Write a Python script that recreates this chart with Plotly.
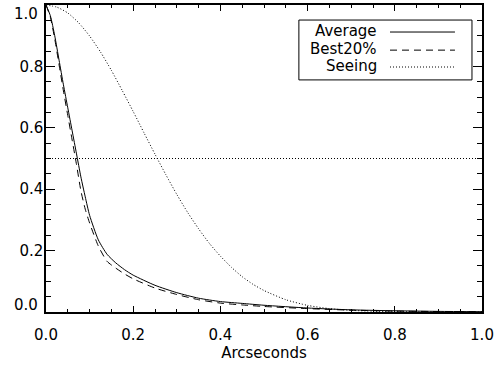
import plotly.graph_objects as go

# ---- data ----
x_avg = [0.0, 0.01, 0.02, 0.03, 0.04, 0.05, 0.06, 0.07, 0.08, 0.09, 0.10, 0.12, 0.14, 0.16, 0.18,
         0.20, 0.25, 0.30, 0.35, 0.40, 0.45, 0.50, 0.60, 0.70, 0.80, 0.90, 1.00]
y_avg = [1.0, 0.965, 0.90, 0.82, 0.74, 0.665, 0.59, 0.515, 0.44, 0.375, 0.315, 0.235, 0.188, 0.160, 0.138,
         0.120, 0.087, 0.063, 0.045, 0.034, 0.028, 0.022, 0.013, 0.007, 0.004, 0.002, 0.001]
y_best = [1.0, 0.96, 0.89, 0.805, 0.72, 0.64, 0.56, 0.48, 0.395, 0.335, 0.29, 0.215, 0.165, 0.143, 0.124,
          0.108, 0.078, 0.057, 0.040, 0.029, 0.023, 0.018, 0.011, 0.006, 0.003, 0.0015, 0.001]

x_see = [0.0, 0.025, 0.05, 0.075, 0.10, 0.125, 0.15, 0.175, 0.20, 0.225, 0.25, 0.275, 0.30, 0.325,
         0.35, 0.375, 0.40, 0.425, 0.45, 0.475, 0.50, 0.55, 0.60, 0.65, 0.70, 0.75, 0.80, 0.90, 1.00]
y_see = [1.0, 0.993, 0.974, 0.942, 0.899, 0.847, 0.787, 0.721, 0.653, 0.583, 0.514, 0.447, 0.383, 0.324,
         0.271, 0.223, 0.182, 0.146, 0.115, 0.090, 0.070, 0.040, 0.0215, 0.011, 0.0054, 0.0025, 0.0011, 0.0002, 0.0]

x_half = [0.0, 1.0]
y_half = [0.5, 0.5]

legend_names = ["Average", "Best20%", "Seeing"]
legend_dash = ["solid", "7px,5px", "1px,2px"]

x_ticks = [0.0, 0.2, 0.4, 0.6, 0.8, 1.0]
y_ticks = [0.0, 0.2, 0.4, 0.6, 0.8, 1.0]
# IDL nudges the end labels of the y axis inwards; those two are drawn as annotations
y_ticktext = ["", "0.2", "0.4", "0.6", "0.8", ""]

FONT = "DejaVu Sans"

fig = go.Figure()
fig.add_trace(go.Scatter(x=x_avg, y=y_avg, mode="lines", line=dict(color="black", width=1, shape="spline", smoothing=0.6, dash=legend_dash[0]), showlegend=False))
fig.add_trace(go.Scatter(x=x_avg, y=y_best, mode="lines", line=dict(color="black", width=1, shape="spline", smoothing=0.6, dash=legend_dash[1]), showlegend=False))
fig.add_trace(go.Scatter(x=x_see, y=y_see, mode="lines", line=dict(color="black", width=1, shape="spline", smoothing=0.6, dash=legend_dash[2]), showlegend=False))
fig.add_trace(go.Scatter(x=x_half, y=y_half, mode="lines", line=dict(color="black", width=1, dash=legend_dash[2]), showlegend=False))

# custom legend (text left, line sample right), IDL style
fig.add_shape(type="rect", xref="paper", yref="paper", x0=0.580, x1=0.977, y0=0.756, y1=0.951,
              line=dict(color="black", width=1), fillcolor="white", layer="above")
rows_y = [0.912, 0.853, 0.798]
for name, dash, ry in zip(legend_names, legend_dash, rows_y):
    fig.add_annotation(xref="paper", yref="paper", x=0.764, y=ry + 0.004, text=name, showarrow=False,
                       xanchor="right", yanchor="middle", font=dict(family=FONT, size=15, color="black"))
    fig.add_shape(type="line", xref="paper", yref="paper", x0=0.789, x1=0.938, y0=ry, y1=ry,
                  line=dict(color="black", width=1, dash=dash), layer="above")

# end labels of the y axis
fig.add_annotation(xref="paper", yref="y", x=0, y=y_ticks[-1], text=f"{y_ticks[-1]:.1f}", showarrow=False,
                   xanchor="right", yanchor="top", xshift=-6, yshift=2,
                   font=dict(family=FONT, size=15, color="black"))
fig.add_annotation(xref="paper", yref="y", x=0, y=y_ticks[0], text=f"{y_ticks[0]:.1f}", showarrow=False,
                   xanchor="right", yanchor="bottom", xshift=-6, yshift=-4,
                   font=dict(family=FONT, size=15, color="black"))

axis_common = dict(range=[0, 1], showline=True, linecolor="black", linewidth=1.5, mirror="ticks",
                   ticks="inside", tickcolor="black", tickwidth=1, showgrid=False, zeroline=False,
                   automargin=False, ticklabeloverflow="allow",
                   tickfont=dict(family=FONT, size=15, color="black"))
fig.update_xaxes(**axis_common, tickvals=x_ticks, tickformat=".1f", ticklen=6,
                 minor=dict(dtick=0.05, ticks="inside", ticklen=3, tickcolor="black", tickwidth=1, showgrid=False),
                 title=dict(text="Arcseconds", font=dict(family=FONT, size=15, color="black"), standoff=4),
                 ticklabelstandoff=8)
fig.update_yaxes(**axis_common, tickvals=y_ticks, ticktext=y_ticktext, ticklen=9,
                 minor=dict(dtick=0.05, ticks="inside", ticklen=5, tickcolor="black", tickwidth=1, showgrid=False),
                 ticklabelstandoff=-2)

fig.update_layout(width=503, height=367, margin=dict(l=46, r=21, t=5, b=55),
                  paper_bgcolor="white", plot_bgcolor="white", showlegend=False,
                  font=dict(family=FONT, size=15, color="black"))

fig.write_html("out.html", config={"displayModeBar": False},
               post_script="document.body.style.margin='0';document.body.style.overflow='hidden';")
